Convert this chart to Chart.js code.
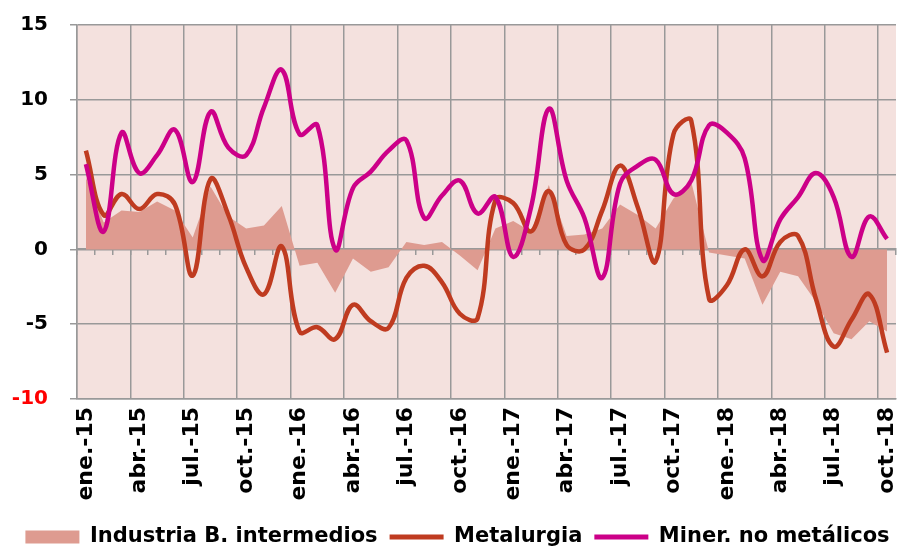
<!DOCTYPE html>
<html>
<head>
<meta charset="utf-8">
<script src="https://cdn.jsdelivr.net/npm/chart.js@4.4.1/dist/chart.umd.min.js"></script>
<style>
  html, body { margin: 0; padding: 0; background: #ffffff; }
  #wrap { width: 915px; height: 547px; position: relative; }
</style>
</head>
<body>
<div id="wrap"><canvas id="grafico"></canvas></div>
<script>
// Meses (ene.-15 a oct.-18)
const meses = [
  'ene.-15','feb.-15','mar.-15','abr.-15','may.-15','jun.-15','jul.-15','ago.-15','sep.-15','oct.-15','nov.-15','dic.-15',
  'ene.-16','feb.-16','mar.-16','abr.-16','may.-16','jun.-16','jul.-16','ago.-16','sep.-16','oct.-16','nov.-16','dic.-16',
  'ene.-17','feb.-17','mar.-17','abr.-17','may.-17','jun.-17','jul.-17','ago.-17','sep.-17','oct.-17','nov.-17','dic.-17',
  'ene.-18','feb.-18','mar.-18','abr.-18','may.-18','jun.-18','jul.-18','ago.-18','sep.-18','oct.-18'
];

// Series
const industriaBI = [
  4.8, 1.8, 2.6, 2.5, 3.2, 2.6, 0.8, 4.2, 2.2, 1.4, 1.6, 2.9,
  -1.1, -0.9, -2.9, -0.6, -1.5, -1.2, 0.5, 0.3, 0.5, -0.4, -1.4, 1.4,
  1.9, 1.2, 4.3, 0.9, 1.0, 1.4, 3.0, 2.3, 1.4, 3.4, 4.5, -0.2,
  -0.4, -0.6, -3.7, -1.5, -1.8, -3.5, -5.6, -6.0, -4.8, -5.5
];
const metalurgia = [
  6.6, 2.3, 3.7, 2.7, 3.7, 3.0, -1.75, 4.7, 2.3, -1.2, -3.0, 0.2,
  -5.5, -5.2, -6.0, -3.7, -4.8, -5.25, -1.9, -1.1, -2.2, -4.3, -4.6, 3.3,
  3.1, 1.2, 3.9, 0.3, 0.0, 2.6, 5.6, 2.8, -0.8, 7.7, 8.6, -3.3,
  -2.4, 0.0, -1.8, 0.5, 0.9, -3.3, -6.5, -4.7, -3.0, -6.9
];
const minerNoMetalicos = [
  5.7, 1.2, 7.8, 5.1, 6.3, 8.0, 4.5, 9.2, 6.8, 6.3, 9.5, 12.0,
  7.7, 8.3, 0.0, 4.1, 5.2, 6.6, 7.3, 2.1, 3.6, 4.6, 2.4, 3.5,
  -0.5, 2.8, 9.4, 4.6, 2.1, -1.9, 4.4, 5.6, 6.0, 3.7, 4.6, 8.3,
  7.8, 6.1, -0.7, 2.0, 3.5, 5.1, 3.5, -0.5, 2.2, 0.7
];

// Eje Y
const yMin = -10;
const yMax = 15;
const yPaso = 5;

const colorFondo = '#F4E1DE';
const colorArea = '#DE9B90';
const colorMetal = '#BF3B20';
const colorMiner = '#CC0088';
const colorRejilla = '#999999';
const fuente = 'DejaVu Sans, Verdana, sans-serif';

// Fondo rosado del área de trazado
const fondoPlugin = {
  id: 'fondo',
  beforeDraw(chart) {
    const { ctx, chartArea } = chart;
    ctx.save();
    ctx.fillStyle = colorFondo;
    ctx.fillRect(chartArea.left, chartArea.top, chartArea.right - chartArea.left, chartArea.bottom - chartArea.top);
    ctx.restore();
  }
};

const sinRelleno = (scale) => {
  scale.paddingLeft = 0;
  scale.paddingRight = 0;
  scale.paddingTop = 0;
  scale.paddingBottom = 0;
};

const ctx = document.getElementById('grafico').getContext('2d');
new Chart(ctx, {
  type: 'line',
  data: {
    labels: meses,
    datasets: [
      {
        label: 'Industria B. intermedios',
        data: industriaBI,
        backgroundColor: colorArea,
        borderColor: colorArea,
        borderWidth: 0,
        fill: 'origin',
        pointRadius: 0,
        tension: 0,
        order: 3
      },
      {
        label: 'Metalurgia',
        data: metalurgia,
        borderColor: colorMetal,
        backgroundColor: colorMetal,
        borderWidth: 4.5,
        fill: false,
        pointRadius: 0,
        tension: 0.4,
        order: 2
      },
      {
        label: 'Miner. no metálicos',
        data: minerNoMetalicos,
        borderColor: colorMiner,
        backgroundColor: colorMiner,
        borderWidth: 4.5,
        fill: false,
        pointRadius: 0,
        tension: 0.4,
        order: 1
      }
    ]
  },
  options: {
    responsive: true,
    maintainAspectRatio: false,
    animation: false,
    layout: { padding: { left: 0, right: 0, top: 25, bottom: -10.5 } },
    plugins: {
      tooltip: { enabled: false },
      legend: {
        position: 'bottom',
        labels: {
          usePointStyle: true,
          pointStyleWidth: 54,
          boxHeight: 13,
          padding: 12,
          color: '#000',
          font: { family: fuente, size: 21, weight: 'bold' },
          sort: (a, b) => a.datasetIndex - b.datasetIndex,
          generateLabels(chart) {
            return chart.data.datasets.map((ds, i) => ({
              text: ds.label,
              datasetIndex: i,
              pointStyle: ds.fill ? 'rect' : 'line',
              fillStyle: ds.backgroundColor,
              strokeStyle: ds.borderColor,
              lineWidth: ds.fill ? 0 : 5,
              fontColor: '#000',
              hidden: false
            }));
          }
        }
      }
    },
    scales: {
      x: {
        type: 'category',
        position: 'bottom',
        offset: true,
        afterFit: (scale) => {
          sinRelleno(scale);
          scale.paddingRight = 19; // margen derecho del área de trazado
          scale.height = 115.5;
        },
        grid: {
          offset: true,
          drawTicks: false,
          lineWidth: 1.5,
          color: (c) => (c.index % 3 === 0 ? colorRejilla : 'rgba(0,0,0,0)')
        },
        border: { display: true, color: colorRejilla, width: 1.5 },
        ticks: {
          autoSkip: false,
          maxRotation: 90,
          minRotation: 90,
          padding: 8,
          color: '#000',
          font: { family: fuente, size: 22, weight: 'bold' },
          callback: function (val, idx) {
            return idx % 3 === 0 ? this.getLabelForValue(val) : '';
          }
        }
      },
      // Eje auxiliar sobre la línea del cero, solo con las marcas pequeñas
      xCero: {
        type: 'category',
        position: { y: 0 },
        offset: true,
        afterFit: (scale) => {
          sinRelleno(scale);
          scale.height = 0;
        },
        grid: {
          offset: true,
          drawOnChartArea: false,
          drawTicks: true,
          tickLength: 5,
          lineWidth: 1.5,
          color: colorRejilla
        },
        border: { display: true, color: colorRejilla, width: 2 },
        ticks: { display: false }
      },
      y: {
        min: yMin,
        max: yMax,
        afterFit: (scale) => {
          sinRelleno(scale);
          scale.width = 77;
        },
        grid: {
          drawTicks: true,
          tickLength: 7,
          lineWidth: 1.5,
          color: colorRejilla
        },
        border: { display: true, color: colorRejilla, width: 1.5 },
        ticks: {
          stepSize: yPaso,
          padding: 22,
          color: (c) => (c.tick.value === yMin ? '#FF0000' : '#000'),
          font: { family: fuente, size: 20, weight: 'bold' }
        }
      }
    }
  },
  plugins: [fondoPlugin]
});
</script>
</body>
</html>
